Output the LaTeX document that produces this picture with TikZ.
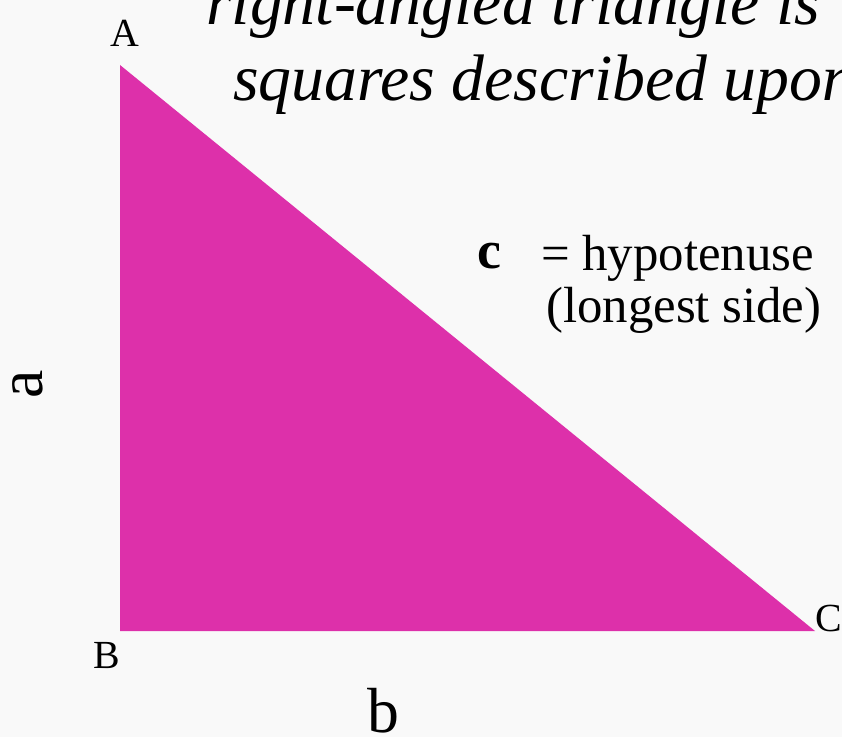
\documentclass[tikz,border=0pt]{standalone}
\usepackage{fontspec}
\setmainfont{Liberation Serif}
\definecolor{trifill}{RGB}{221,48,170}
\definecolor{slide}{RGB}{249,249,249}
\tikzset{
  vlabel/.style={font=\fontsize{40}{44}\selectfont, inner sep=0pt},
  slabel/.style={font=\fontsize{64}{70}\selectfont, inner sep=0pt},
  hyp/.style={font=\fontsize{51}{56}\selectfont, inner sep=0pt, anchor=base west},
  title/.style={font=\fontsize{66}{72}\selectfont\itshape, inner sep=0pt, anchor=base west}
}
\begin{document}
\begin{tikzpicture}[x=1bp, y=-1bp]
  \useasboundingbox (0,0) rectangle (842,737);
  \clip (0,0) rectangle (842,737);
  \fill[slide] (0,0) rectangle (842,737);
  \coordinate (A) at (120,65);
  \coordinate (B) at (120,631);
  \coordinate (C) at (815,631);
  \fill[trifill] (A) -- (B) -- (C) -- cycle;
  \node[title] (line1) at (206,25) {right-angled triangle is};
  \node[title] (line2) at (233,100) {squares described upon};
  \node[vlabel, anchor=base] (labA) at (125,47) {A};
  \node[vlabel, anchor=base] (labB) at (107,668) {B};
  \node[vlabel, anchor=base west] (labC) at (C) {C};
  \node[slabel, anchor=base, rotate=90] (sidea) at (42,384) {a};
  \node[slabel, anchor=base] (sideb) at (383,732) {b};
  \node[hyp, font=\fontsize{54}{58}\selectfont\bfseries] (sidec) at (477,268) {c};
  \node[hyp] (hyp1) at (541,270) {= hypotenuse};
  \node[hyp] (hyp2) at (546,322) {(longest side)};
\end{tikzpicture}
\end{document}
